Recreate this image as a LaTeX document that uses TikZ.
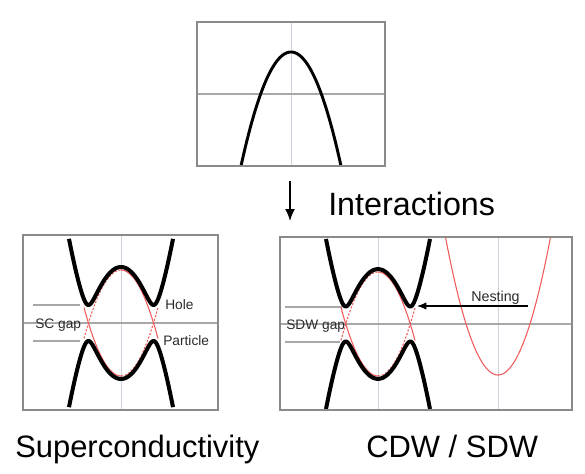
\documentclass[tikz,border=0pt]{standalone}
\usepackage{fontspec}
\setmainfont{Liberation Sans}
\usetikzlibrary{arrows.meta}
\definecolor{frame}{HTML}{8A8A8A}
\definecolor{axisgray}{HTML}{A8A8A8}
\definecolor{vaxis}{HTML}{D0D0DC}
\definecolor{bandred}{HTML}{F05A5A}
\definecolor{labelgray}{HTML}{2A2A2A}
\tikzset{
  boxframe/.style={draw=frame, line width=1.1pt},
  haxis/.style={draw=axisgray, line width=0.9pt},
  vaxisline/.style={draw=vaxis, line width=0.7pt},
  gapline/.style={draw=axisgray, line width=0.9pt},
  band/.style={line width=3pt, line join=round},
  thinband/.style={line width=2.2pt},
  redsolid/.style={draw=bandred, line width=0.8pt},
  reddash/.style={draw=bandred, line width=0.8pt, dash pattern=on 1.6pt off 1.2pt},
  small/.style={inner sep=0pt, anchor=base west, text=labelgray, font=\fontsize{10.3}{12}\selectfont},
  big/.style={inner sep=0pt, anchor=base west, font=\fontsize{23.2}{28}\selectfont},
}
\begin{document}
\begin{tikzpicture}[x=0.75pt,y=-0.75pt]
\useasboundingbox (0,0) rectangle (585,474);
% ---------- top panel ----------
\draw[vaxisline] (291,22) -- (291,166);
\draw[haxis] (197,94) -- (385,94);
\draw[thinband] plot[domain=-50:50, samples=80, smooth] ({291+\x},{52+0.0456*\x*\x});
\draw[boxframe] (197,22) rectangle (385,166);
% arrow and label
\coordinate (arrS) at (290,181);
\coordinate (arrE) at (290,221);
\draw[line width=1.3pt, -{Latex[length=9pt,width=7.5pt]}] (arrS) -- (arrE);
\node[big, font=\fontsize{24.2}{28}\selectfont] (inter) at (328,215) {Interactions};
% ---------- left panel (SC) ----------
\draw[vaxisline] (121,235) -- (121,410);
\draw[haxis] (23,323) -- (218,323);
\draw[gapline] (33,305) -- (80,305);
\draw[gapline] (33,341) -- (80,341);
% red bare bands
\draw[reddash]  plot[domain=-37:0, samples=30, smooth] ({121+\x},{270+0.05*\x*\x});
\draw[redsolid] plot[domain=0:37, samples=30, smooth] ({121+\x},{270+0.05*\x*\x});
\draw[redsolid] plot[domain=-37:0, samples=30, smooth] ({121+\x},{376-0.05*\x*\x});
\draw[reddash]  plot[domain=0:37, samples=30, smooth] ({121+\x},{376-0.05*\x*\x});
% gapped bands
\draw[band] plot[domain=-52:52, samples=121, smooth] ({121+\x},{323-sqrt((53-0.05*\x*\x)*(53-0.05*\x*\x)+324)});
\draw[band] plot[domain=-52:52, samples=121, smooth] ({121+\x},{323+sqrt((53-0.05*\x*\x)*(53-0.05*\x*\x)+324)});
\draw[boxframe] (23,235) rectangle (218,410);
\node[small] (scgap) at (35,328) {SC gap};
\node[small] (hole) at (165,309) {Hole};
\node[small] (part) at (163,345) {Particle};
\node[big] (sc) at (15,457) {Superconductivity};
% ---------- right panel (CDW/SDW) ----------
\draw[vaxisline] (378,237) -- (378,410);
\draw[vaxisline] (498,237) -- (498,410);
\draw[haxis] (280,324) -- (572,324);
\draw[gapline] (285,307) -- (342,307);
\draw[gapline] (285,342) -- (340,342);
\draw[reddash]  plot[domain=-37:0, samples=30, smooth] ({378+\x},{272+0.05*\x*\x});
\draw[redsolid] plot[domain=0:37, samples=30, smooth] ({378+\x},{272+0.05*\x*\x});
\draw[redsolid] plot[domain=-37:0, samples=30, smooth] ({378+\x},{376-0.05*\x*\x});
\draw[reddash]  plot[domain=0:37, samples=30, smooth] ({378+\x},{376-0.05*\x*\x});
\draw[redsolid] plot[domain=-52.5:52.5, samples=80, smooth] ({498+\x},{375-0.05*\x*\x});
\draw[band] plot[domain=-52:52, samples=121, smooth] ({378+\x},{324-sqrt((52-0.05*\x*\x)*(52-0.05*\x*\x)+306)});
\draw[band] plot[domain=-52:52, samples=121, smooth] ({378+\x},{324+sqrt((52-0.05*\x*\x)*(52-0.05*\x*\x)+306)});
\draw[boxframe] (280,237) rectangle (572,410);
\node[small] (sdwgap) at (286,329) {SDW gap};
\node[small, font=\fontsize{10.7}{12}\selectfont] (nest) at (471,301) {Nesting};
\coordinate (nestS) at (528,306);
\coordinate (nestE) at (417,306);
\draw[line width=0.9pt, -{Latex[length=7pt,width=5.5pt]}] (nestS) -- (nestE);
\node[big] (cdw) at (366,457) {CDW / SDW};
\end{tikzpicture}
\end{document}
